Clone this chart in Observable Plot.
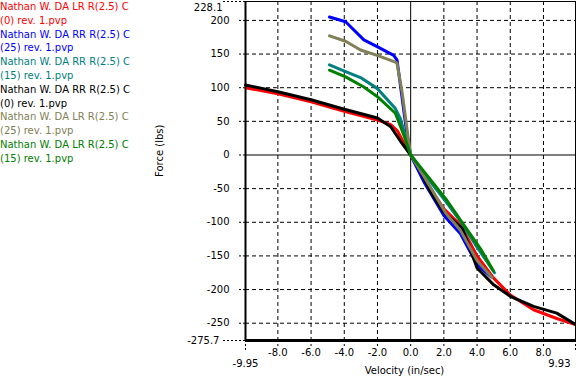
<!DOCTYPE html>
<html>
<head>
<meta charset="utf-8">
<script src="https://cdn.jsdelivr.net/npm/d3@7"></script>
<script src="https://cdn.jsdelivr.net/npm/@observablehq/plot@0.6"></script>
<style>
  html, body { margin: 0; padding: 0; background: #fff; }
  #wrap { position: relative; width: 576px; height: 384px; }
  #wrap svg { position: absolute; left: 0; top: 0; overflow: visible; }
  #legend { position: absolute; left: 0; top: 0; font-family: "DejaVu Sans", sans-serif; font-size: 10px; line-height: 13.8px; white-space: pre; }
</style>
</head>
<body>
<div id="wrap"><div id="legend"></div></div>
<script>
const seriesNames = [
  "Nathan W. DA LR R(2.5) C\n(0) rev. 1.pvp",
  "Nathan W. DA RR R(2.5) C\n(25) rev. 1.pvp",
  "Nathan W. DA RR R(2.5) C\n(15) rev. 1.pvp",
  "Nathan W. DA RR R(2.5) C\n(0) rev. 1.pvp",
  "Nathan W. DA LR R(2.5) C\n(25) rev. 1.pvp",
  "Nathan W. DA LR R(2.5) C\n(15) rev. 1.pvp"
];
const seriesColors = ["#ff0000", "#0000ff", "#008080", "#000000", "#807f55", "#008000"];

const xDomain = [-9.95, 9.93];
const yDomain = [-275.7, 228.1];
const xTicks = [-8, -6, -4, -2, 0, 2, 4, 6, 8];
const yTicks = [-250, -200, -150, -100, -50, 0, 50, 100, 150, 200];

// velocity (in/sec) and force (lbs) per series
const lr0V  = [-9.95, -8, -6, -4, -2, -1.2, -0.8, -0.5, 0, 0.5, 1.2, 2, 3, 4, 5, 6, 7.4, 8.8, 9.93];
const lr0F  = [100, 91, 79, 65, 52, 45, 36, 22, 0, -20, -50, -80, -104, -150, -183, -208, -230, -243, -252];
const rr25V = [-4.89, -3.92, -2.82, -2.02, -1.02, -0.82, -0.62, -0.22, 0, 0.8, 2, 3, 4, 4.85];
const rr25F = [205, 198, 171, 161, 148, 141, 104, 30, 0, -40, -90, -117, -163, -181];
const rr15V = [-4.89, -3.92, -3.02, -2.02, -0.92, -0.62, 0, 1.2, 2.2, 3.1, 4, 5.05];
const rr15F = [134, 124, 115, 99, 69, 54, 0, -40, -72, -102, -137, -175];
const rr0V  = [-9.95, -8, -6, -4, -2, -1.2, -0.6, 0, 0.5, 1.2, 2, 3.1, 3.5, 4, 5, 6, 7.4, 8.8, 9.93];
const rr0F  = [104, 94, 82, 68, 55, 42, 20, 0, -20, -55, -85, -109, -134, -168, -193, -210, -225, -235, -252];
const lr25V = [-4.89, -3.92, -3.02, -2.02, -0.92, -0.82, -0.52, -0.12, 0, 1, 2.1, 3, 4, 4.9];
const lr25F = [177, 169, 156, 148, 138, 136, 94, 20, 0, -40, -86, -112, -157, -182];
const lr15V = [-4.89, -3.92, -2.82, -2.02, -0.92, -0.42, 0, 1.3, 2.2, 3.2, 4.2, 4.98];
const lr15F = [126, 116, 101, 87, 62, 30, 0, -40, -68, -104, -139, -172];

const seriesV = [lr0V, rr25V, rr15V, rr0V, lr25V, lr15V];
const seriesF = [lr0F, rr25F, rr15F, rr0F, lr25F, lr15F];

const rows = [];
seriesNames.forEach((name, i) => {
  seriesV[i].forEach((v, j) => rows.push({series: name, v, f: seriesF[i][j]}));
});

const gridX = xTicks.filter(d => d !== 0);
const gridY = yTicks.filter(d => d !== 0);
const dash = "4,3";

const chart = Plot.plot({
  width: 576,
  height: 384,
  marginLeft: 245,
  marginRight: 1,
  marginTop: 1,
  marginBottom: 44,
  style: {fontFamily: "DejaVu Sans, sans-serif", fontSize: "10px", color: "#000", background: "transparent"},
  x: {domain: xDomain},
  y: {domain: yDomain},
  color: {domain: seriesNames, range: seriesColors},
  marks: [
    Plot.ruleX(gridX, {stroke: "#000", strokeDasharray: dash}),
    Plot.ruleY(gridY, {stroke: "#000", strokeDasharray: dash}),
    Plot.ruleX([0], {stroke: "#000"}),
    Plot.ruleY([0], {stroke: "#000"}),
    Plot.axisY(yTicks, {tickSize: 7, tickPadding: 9, strokeDasharray: "2,2", label: null, tickFormat: d => String(d)}),
    Plot.axisX(xTicks, {tickSize: 6, tickPadding: 2, strokeDasharray: "2,2", label: null, tickFormat: d => d.toFixed(1)}),
    Plot.axisY(yDomain, {tickSize: 22, strokeDasharray: "2,2", label: null, tickFormat: () => ""}),
    Plot.axisX(xDomain, {tickSize: 11, strokeDasharray: "2,2", label: null, tickFormat: () => ""}),
    Plot.text([yDomain[1]], {y: d => d, frameAnchor: "left", dx: -23, dy: 6, textAnchor: "end", text: d => d.toFixed(1)}),
    Plot.text([yDomain[0]], {y: d => d, frameAnchor: "left", dx: -26, dy: 0, textAnchor: "end", text: d => d.toFixed(1)}),
    Plot.text([xDomain[0]], {x: d => d, frameAnchor: "bottom", dy: 26, text: d => d.toFixed(2)}),
    Plot.text([xDomain[1]], {x: d => d, frameAnchor: "bottom", dy: 26, dx: -5, textAnchor: "end", text: d => d.toFixed(2)}),
    Plot.line(rows, {x: "v", y: "f", z: "series", stroke: "series", strokeWidth: 3, strokeLinejoin: "round"}),
    Plot.ruleX([xDomain[0]], {stroke: "#000", strokeWidth: 2}),
    Plot.ruleX([xDomain[1]], {stroke: "#000", strokeWidth: 1}),
    Plot.ruleY([yDomain[1]], {stroke: "#000", strokeWidth: 1}),
    Plot.ruleY([yDomain[0]], {stroke: "#000", strokeWidth: 3}),
    Plot.text(["Velocity (in/sec)"], {frameAnchor: "bottom", dy: 33, dx: -6, text: d => d}),
    Plot.text(["Force (lbs)"], {frameAnchor: "left", dx: -86, dy: 6, rotate: -90, text: d => d})
  ]
});

const wrap = document.getElementById("wrap");
wrap.insertBefore(chart, wrap.firstChild);
const legend = document.getElementById("legend");
seriesNames.forEach((name, i) => {
  const d = document.createElement("div");
  d.textContent = name;
  d.style.color = seriesColors[i];
  legend.appendChild(d);
});
</script>
</body>
</html>
